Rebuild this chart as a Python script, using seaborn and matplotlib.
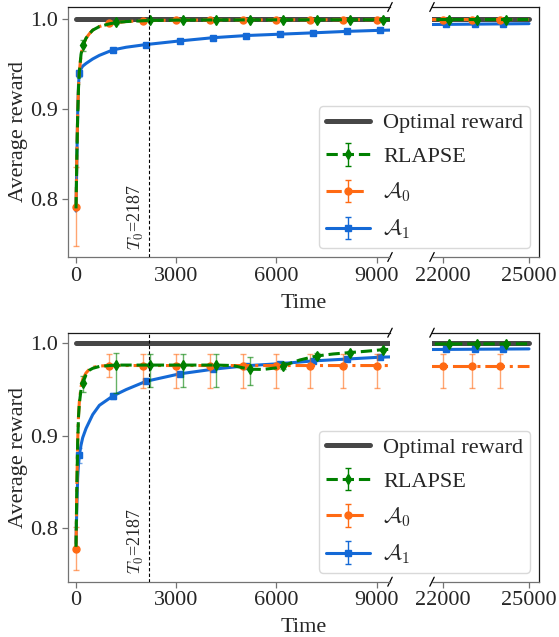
import numpy as np
import matplotlib
matplotlib.use("Agg")
import matplotlib.pyplot as plt
import seaborn as sns

# ---------------- data ----------------
T0 = 2187
opt_t = [0, 25000]
opt_y = [1.0, 1.0]

# ---- top panel ----
top_a0_t = [0, 25, 50, 75, 100, 150, 200, 300, 400, 500, 700, 1000, 1500, 2000, 3000, 5000, 9000, 15000, 25000]
top_a0_y = [0.792, 0.850, 0.895, 0.925, 0.942, 0.960, 0.970, 0.979, 0.984, 0.988, 0.992, 0.9955, 0.9975,
            0.9985, 0.9991, 0.9994, 0.9996, 0.9997, 0.9998]
top_a0_mt = [0, 1000, 2000, 3000, 4000, 5000, 6000, 7000, 8000, 9000, 22000, 23000, 24000]
top_a0_my = [0.792, 0.9955, 0.9985, 0.9991, 0.9993, 0.9994, 0.9995, 0.9995, 0.9996, 0.9996, 0.9997, 0.9997, 0.9997]
top_a0_lo = [0.044, 0.002, 0.001, 0.001, 0.001, 0.001, 0.001, 0.001, 0.001, 0.001, 0.001, 0.001, 0.001]
top_a0_hi = [0.044, 0.002, 0.001, 0.001, 0.001, 0.001, 0.001, 0.001, 0.001, 0.001, 0.001, 0.001, 0.001]

top_rl_t = [0, 25, 50, 75, 100, 150, 200, 300, 400, 500, 700, 1000, 1200, 1500, 2200, 3200, 5200, 9200, 15000, 25000]
top_rl_y = [0.790, 0.848, 0.893, 0.924, 0.942, 0.961, 0.971, 0.979, 0.984, 0.988, 0.992, 0.995, 0.9965, 0.9975,
            0.9988, 0.9992, 0.9994, 0.9996, 0.9997, 0.9998]
top_rl_mt = [200, 1200, 2200, 3200, 4200, 5200, 6200, 7200, 8200, 9200, 22200, 23200, 24200]
top_rl_my = [0.971, 0.9965, 0.9988, 0.9992, 0.9993, 0.9994, 0.9995, 0.9995, 0.9996, 0.9996, 0.9997, 0.9997, 0.9997]
top_rl_lo = [0.006, 0.002, 0.001, 0.001, 0.001, 0.001, 0.001, 0.001, 0.001, 0.001, 0.001, 0.001, 0.001]
top_rl_hi = [0.006, 0.002, 0.001, 0.001, 0.001, 0.001, 0.001, 0.001, 0.001, 0.001, 0.001, 0.001, 0.001]

top_a1_t = [0, 25, 50, 75, 100, 150, 200, 300, 500, 700, 1100, 1500, 2100, 3100, 4100, 5100, 6100, 7100, 8100,
            9100, 12000, 16000, 20000, 25000]
top_a1_y = [0.787, 0.845, 0.895, 0.928, 0.940, 0.945, 0.948, 0.951, 0.956, 0.960, 0.966, 0.969, 0.972, 0.976,
            0.9796, 0.982, 0.9835, 0.985, 0.9866, 0.9878, 0.990, 0.9925, 0.9938, 0.9952]
top_a1_mt = [100, 1100, 2100, 3100, 4100, 5100, 6100, 7100, 8100, 9100, 22100, 23100, 24100]
top_a1_my = [0.940, 0.966, 0.972, 0.976, 0.9796, 0.982, 0.9835, 0.985, 0.9866, 0.9878, 0.9944, 0.9947, 0.995]
top_a1_lo = [0.004, 0.002, 0.0015, 0.0015, 0.001, 0.001, 0.001, 0.001, 0.001, 0.001, 0.001, 0.001, 0.001]
top_a1_hi = [0.004, 0.002, 0.0015, 0.0015, 0.001, 0.001, 0.001, 0.001, 0.001, 0.001, 0.001, 0.001, 0.001]

# ---- bottom panel ----
bot_a0_t = [0, 25, 50, 75, 100, 150, 200, 300, 400, 500, 700, 1000, 25000]
bot_a0_y = [0.778, 0.845, 0.895, 0.922, 0.937, 0.953, 0.961, 0.968, 0.972, 0.974, 0.9755, 0.976, 0.976]
bot_a0_mt = [0, 1000, 2000, 3000, 4000, 5000, 6000, 7000, 8000, 9000, 22000, 23000, 24000]
bot_a0_my = [0.778, 0.976, 0.976, 0.976, 0.976, 0.976, 0.976, 0.976, 0.976, 0.976, 0.976, 0.976, 0.976]
bot_a0_lo = [0.023, 0.012, 0.024, 0.024, 0.024, 0.024, 0.024, 0.024, 0.024, 0.024, 0.024, 0.024, 0.024]
bot_a0_hi = [0.023, 0.012, 0.012, 0.012, 0.012, 0.012, 0.012, 0.012, 0.012, 0.012, 0.012, 0.012, 0.012]

bot_rl_t = [0, 25, 50, 75, 100, 150, 200, 300, 400, 500, 700, 1000, 1200, 2200, 3200, 4200, 4700, 5000, 5200,
            5600, 6000, 6200, 6700, 7200, 7700, 8200, 8700, 9200, 10000, 13000, 17000, 21000, 25000]
bot_rl_y = [0.780, 0.846, 0.893, 0.921, 0.935, 0.950, 0.957, 0.966, 0.971, 0.973, 0.975, 0.976, 0.9765, 0.9765,
            0.9765, 0.9765, 0.976, 0.9735, 0.972, 0.9718, 0.9735, 0.9758, 0.982, 0.9863, 0.9885, 0.990, 0.9915,
            0.9932, 0.9945, 0.997, 0.9985, 0.9993, 0.9995]
bot_rl_mt = [200, 1200, 2200, 3200, 4200, 5200, 6200, 7200, 8200, 9200, 22200, 23200, 24200]
bot_rl_my = [0.957, 0.9765, 0.9765, 0.9765, 0.9765, 0.972, 0.9758, 0.9863, 0.990, 0.9932, 0.9994, 0.9995, 0.9995]
bot_rl_lo = [0.010, 0.030, 0.024, 0.024, 0.024, 0.017, 0.004, 0.003, 0.002, 0.002, 0.001, 0.001, 0.001]
bot_rl_hi = [0.008, 0.013, 0.012, 0.012, 0.012, 0.013, 0.004, 0.003, 0.002, 0.002, 0.001, 0.001, 0.001]

bot_a1_t = [0, 25, 50, 75, 100, 150, 200, 300, 500, 700, 1100, 1500, 2100, 3100, 4100, 5100, 6100, 7100, 8100,
            9100, 12000, 16000, 20000, 25000]
bot_a1_y = [0.784, 0.825, 0.855, 0.870, 0.879, 0.890, 0.898, 0.908, 0.923, 0.933, 0.943, 0.950, 0.959, 0.967,
            0.972, 0.9758, 0.978, 0.981, 0.983, 0.985, 0.988, 0.991, 0.9930, 0.994]
bot_a1_mt = [100, 1100, 2100, 3100, 4100, 5100, 6100, 7100, 8100, 9100, 22100, 23100, 24100]
bot_a1_my = [0.879, 0.943, 0.959, 0.967, 0.972, 0.9758, 0.978, 0.981, 0.983, 0.985, 0.9935, 0.9938, 0.994]
bot_a1_lo = [0.008, 0.003, 0.002, 0.002, 0.002, 0.002, 0.002, 0.002, 0.002, 0.002, 0.001, 0.001, 0.001]
bot_a1_hi = [0.008, 0.003, 0.002, 0.002, 0.002, 0.002, 0.002, 0.002, 0.002, 0.002, 0.001, 0.001, 0.001]

left_xticks = [0, 3000, 6000, 9000]
right_xticks = [22000, 25000]
yticks = [0.8, 0.9, 1.0]
labels = ["Optimal reward", "RLAPSE", r"$\mathcal{A}_0$", r"$\mathcal{A}_1$"]

# ---------------- style ----------------
sns.set_style("white")
plt.rcParams["font.family"] = ["Liberation Serif", "DejaVu Serif"]
plt.rcParams["mathtext.fontset"] = "cm"
plt.rcParams["font.size"] = 16
plt.rcParams["xtick.bottom"] = True
plt.rcParams["ytick.left"] = True

C_OPT = "#474747"
C_RL = "#008000"
C_A0 = "#ff6a13"
C_A1 = "#1469d6"
LW = 2.2

fig = plt.figure(figsize=(5.59, 6.37), dpi=100)
W, H = 559.0, 637.0


def rect(x0, x1, y0, y1):
    return [x0 / W, 1 - y1 / H, (x1 - x0) / W, (y1 - y0) / H]


def series_draw(ax, t, y, mt, my, lo, hi, color, ls, marker, ms, z):
    sns.lineplot(x=t, y=y, ax=ax, color=color, linestyle=ls, lw=LW, errorbar=None,
                 legend=False, zorder=z)
    ax.errorbar(mt, my, yerr=[lo, hi], fmt=marker, ms=ms, color=color,
                ecolor=matplotlib.colors.to_rgba(color, 0.6), elinewidth=1.0,
                capsize=2.5, capthick=1.0, zorder=z + 0.5)


def panel(y0, y1, ylim, data):
    axl = fig.add_axes(rect(68, 390, y0, y1))
    axr = fig.add_axes(rect(432, 539, y0, y1))
    for ax in (axl, axr):
        sns.lineplot(x=opt_t, y=opt_y, ax=ax, color=C_OPT, lw=3.6, errorbar=None,
                     legend=False, zorder=2)
        series_draw(ax, *data["a1"], C_A1, "-", "s", 5, 3)
        series_draw(ax, *data["a0"], C_A0, "-.", "o", 5, 4)
        series_draw(ax, *data["rl"], C_RL, "--", "d", 5.5, 5)
        ax.set_ylim(*ylim)
        ax.set_yticks(yticks)
        for s in ("left", "bottom"):
            ax.spines[s].set_color("0.45")
        for s in ("top", "right"):
            ax.spines[s].set_color("0.1")
        for s in ax.spines.values():
            s.set_linewidth(0.9)
        ax.tick_params(axis="both", length=4, width=0.9, color="0.45", labelsize=16, pad=3)
    axl.set_xlim(-240, 9400)
    axr.set_xlim(21616, 25349)
    axl.set_xticks(left_xticks)
    axr.set_xticks(right_xticks)
    axl.spines["right"].set_visible(False)
    axr.spines["left"].set_visible(False)
    axr.tick_params(left=False, labelleft=False)
    axl.set_ylabel("Average reward", fontsize=16)
    axl.yaxis.set_label_coords(-0.124, 0.5)

    axl.axvline(T0, color="k", ls="--", lw=0.8, zorder=6, dashes=(3, 2))
    axl.text(T0 - 90, 0.03, r"$T_0$=2187", rotation=90, ha="right", va="bottom", fontsize=13,
             transform=axl.get_xaxis_transform())

    # break marks
    dy = 4.5 / (y1 - y0)
    dxl = 2.2 / 322
    dxr = 2.2 / 107
    kw = dict(color="k", clip_on=False, lw=0.9)
    axl.plot((1 - dxl, 1 + dxl), (-dy, dy), transform=axl.transAxes, **kw)
    axl.plot((1 - dxl, 1 + dxl), (1 - dy, 1 + dy), transform=axl.transAxes, **kw)
    axr.plot((-dxr, dxr), (-dy, dy), transform=axr.transAxes, **kw)
    axr.plot((-dxr, dxr), (1 - dy, 1 + dy), transform=axr.transAxes, **kw)

    # legend proxies (NaN data, nothing drawn)
    h_opt = matplotlib.lines.Line2D([], [], color=C_OPT, lw=3.6)
    h_rl = axl.errorbar([np.nan], [np.nan], yerr=[[np.nan], [np.nan]], fmt="--d", ms=5.5, color=C_RL,
                        lw=LW, elinewidth=1.0, capsize=2.5)
    h_a0 = axl.errorbar([np.nan], [np.nan], yerr=[[np.nan], [np.nan]], fmt="-o", ms=5, color=C_A0,
                        lw=LW, elinewidth=1.0, capsize=2.5, dashes=(5, 2.2))
    h_a1 = axl.errorbar([np.nan], [np.nan], yerr=[[np.nan], [np.nan]], fmt="-s", ms=5, color=C_A1,
                        lw=LW, elinewidth=1.0, capsize=2.5)
    axr.legend([h_opt, h_rl, h_a0, h_a1], labels, loc="lower right", fontsize=16,
               borderaxespad=0.4, borderpad=0.3, labelspacing=0.6, handlelength=2.0,
               handletextpad=0.6, framealpha=1.0, edgecolor="0.85")
    axl.set_xlim(-240, 9400)
    axl.set_ylim(*ylim)

    fig.text(303.5 / W, 1 - (y1 + 46.3) / H, "Time", ha="center", va="center", fontsize=16)


panel(7, 257, (0.736, 1.0137), {
    "a0": (top_a0_t, top_a0_y, top_a0_mt, top_a0_my, top_a0_lo, top_a0_hi),
    "rl": (top_rl_t, top_rl_y, top_rl_mt, top_rl_my, top_rl_lo, top_rl_hi),
    "a1": (top_a1_t, top_a1_y, top_a1_mt, top_a1_my, top_a1_lo, top_a1_hi),
})
panel(332.7, 581.7, (0.7423, 1.0115), {
    "a0": (bot_a0_t, bot_a0_y, bot_a0_mt, bot_a0_my, bot_a0_lo, bot_a0_hi),
    "rl": (bot_rl_t, bot_rl_y, bot_rl_mt, bot_rl_my, bot_rl_lo, bot_rl_hi),
    "a1": (bot_a1_t, bot_a1_y, bot_a1_mt, bot_a1_my, bot_a1_lo, bot_a1_hi),
})

fig.savefig("out.png", dpi=100)
